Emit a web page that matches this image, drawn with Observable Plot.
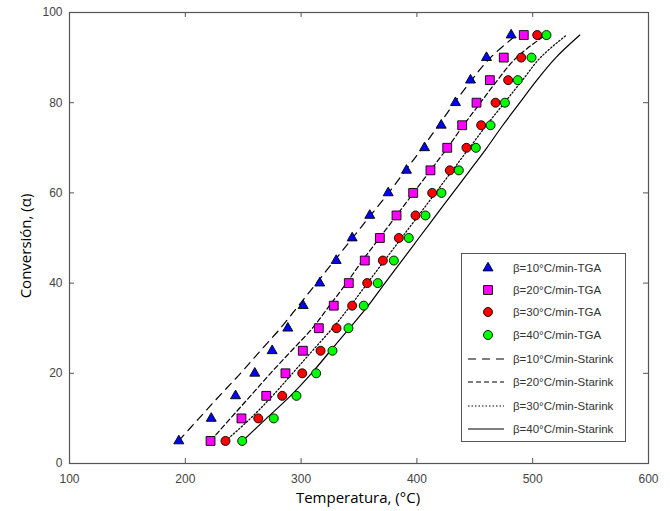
<!DOCTYPE html>
<html><head><meta charset="utf-8">
<script src="https://cdn.jsdelivr.net/npm/d3@7"></script>
<script src="https://cdn.jsdelivr.net/npm/@observablehq/plot@0.6"></script>
<style>body{margin:0;background:#fff}</style>
</head><body><div id="chart"></div>
<script>
const alpha = [5,10,15,20,25,30,35,40,45,50,55,60,65,70,75,80,85,90,95];
// TGA measured temperatures (°C)
const tga10 = [194.4,222.4,243.4,260.0,275.0,288.5,301.8,316.1,330.3,344.1,359.3,375.2,391.0,406.6,421.0,433.3,446.3,460.1,481.4];
const tga20 = [221.8,248.5,269.9,286.5,301.5,315.3,328.2,341.2,355.0,368.0,382.4,396.8,411.7,426.2,439.1,451.5,463.0,475.0,492.3];
const tga30 = [234.7,263.0,283.7,301.0,316.8,330.6,344.1,357.1,370.6,384.4,398.8,413.2,428.4,442.8,455.5,467.9,478.8,490.1,503.9];
const tga40 = [249.1,276.4,296.0,313.0,327.1,340.9,354.1,366.2,380.1,393.0,407.4,421.2,436.2,450.9,463.6,476.0,487.1,499.0,511.9];
// Starink model curves (°C)
const st10 = [194.1,211.8,229.5,247.7,264.9,282.2,297.8,313.3,328.8,344.4,359.9,375.5,390.2,404.8,418.7,432.5,447.2,463.6,486.0];
const st20 = [221.8,239.0,256.3,273.6,291.7,309.8,324.5,339.2,353.0,367.7,382.4,397.1,411.7,426.4,440.2,454.9,469.6,486.0,511.0];
const st30 = [234.7,256.3,275.3,292.6,309.8,327.1,342.7,357.3,372.0,386.7,401.4,416.1,430.7,445.4,460.1,475.6,491.2,506.7,529.2];
const st40 = [249.4,270.1,290.8,309.0,325.4,341.8,358.0,372.4,387.1,401.7,416.4,431.1,445.8,460.4,474.2,488.9,503.6,520.0,540.7];
const xTicks = [100,200,300,400,500,600];
const yTicks = [0,20,40,60,80,100];
const tgaNames = ["β=10°C/min-TGA","β=20°C/min-TGA","β=30°C/min-TGA","β=40°C/min-TGA"];
const stNames = ["β=10°C/min-Starink","β=20°C/min-Starink","β=30°C/min-Starink","β=40°C/min-Starink"];

const W = 670, H = 511, mL = 69, mR = 22, mT = 12, mB = 48;
const iw = W - mL - mR, ih = H - mT - mB;

const tgaStyle = [
  {symbol:"triangle", fill:"#0000ff", r:3.7},
  {symbol:"square", fill:"#ff00ff", r:5.0},
  {symbol:"circle", fill:"#ff0000", r:4.5},
  {symbol:"circle", fill:"#00ff00", r:4.5}
];
const lineStyle = [
  {dash:"8,6"},
  {dash:"5,3"},
  {dash:"1.5,2"},
  {dash:null}
];
const tgaSeries = [tga10,tga20,tga30,tga40];
const stSeries = [st10,st20,st30,st40];

const marks = [];
stSeries.forEach((s,i) => {
  const rows = s.map((t,j)=>({T:t, a:alpha[j]}));
  marks.push(Plot.line(rows, {x:"T", y:"a", stroke:"#000", strokeWidth:1.2, curve:"monotone-y",
    strokeDasharray: lineStyle[i].dash}));
});
tgaSeries.forEach((s,i) => {
  const rows = s.map((t,j)=>({T:t, a:alpha[j]}));
  marks.push(Plot.dot(rows, {x:"T", y:"a", symbol: tgaStyle[i].symbol, r: tgaStyle[i].r,
    fill: tgaStyle[i].fill, stroke:"#000", strokeWidth:0.9}));
});

const chart = Plot.plot({
  width: W, height: H, marginLeft: mL, marginRight: mR, marginTop: mT, marginBottom: mB,
  x: {domain:[100,600]},
  y: {domain:[0,100]},
  style: {fontFamily:"'Liberation Sans', Arial, sans-serif", fontSize:"12px", color:"#444", background:"#fff"},
  marks: [
    Plot.axisX({ticks:xTicks, tickSize:0, tickPadding:11, label:null, tickFormat:d=>String(d)}),
    Plot.axisY({ticks:yTicks, tickSize:0, tickPadding:7, label:null, tickFormat:d=>String(d)}),
    Plot.ruleX(xTicks, {stroke:"#555", insetTop: ih-5}),
    Plot.ruleX(xTicks, {stroke:"#555", insetBottom: ih-5}),
    Plot.ruleY(yTicks, {stroke:"#555", insetRight: iw-5}),
    Plot.ruleY(yTicks, {stroke:"#555", insetLeft: iw-5}),
    ...marks,
    Plot.frame({stroke:"#555", strokeWidth:1.2})
  ]
});
document.getElementById("chart").appendChild(chart);

const svg = d3.select(chart);
// axis titles
svg.append("text").attr("x", 358).attr("y", 503).attr("text-anchor","middle")
  .style("font-family","'Open Sans', sans-serif").style("font-size","15px").attr("fill","#000")
  .text("Temperatura, (°C)");
svg.append("text").attr("transform","translate(31,246) rotate(-90)").attr("text-anchor","middle")
  .style("font-family","'Open Sans', sans-serif").style("font-size","15px").attr("fill","#000")
  .text("Conversión, (α)");

// legend
const lg = svg.append("g");
lg.append("rect").attr("x",461.5).attr("y",253.5).attr("width",164).attr("height",188)
  .attr("fill","#fff").attr("stroke","#555").attr("stroke-width",1);
const rowsY = [268,290,312,335,359,382,406,429];
const symMap = {triangle:d3.symbolTriangle, square:d3.symbolSquare, circle:d3.symbolCircle};
tgaStyle.forEach((s,i)=>{
  lg.append("path").attr("transform",`translate(488,${rowsY[i]})`)
    .attr("d", d3.symbol(symMap[s.symbol], Math.PI*s.r*s.r)())
    .attr("fill", s.fill).attr("stroke","#000").attr("stroke-width",0.9);
});
lineStyle.forEach((s,i)=>{
  const l = lg.append("line").attr("x1",468).attr("x2",504).attr("y1",rowsY[i+4]).attr("y2",rowsY[i+4])
    .attr("stroke","#000").attr("stroke-width",1.2);
  if (s.dash) l.attr("stroke-dasharray", s.dash);
});
[...tgaNames, ...stNames].forEach((n,i)=>{
  lg.append("text").attr("x",513).attr("y",rowsY[i]).attr("dy","0.35em")
    .attr("text-anchor","start").style("text-anchor","start")
    .style("font-family","'Liberation Sans', Arial, sans-serif").style("font-size","11.5px")
    .attr("fill","#333").text(n);
});
</script>
</body></html>
